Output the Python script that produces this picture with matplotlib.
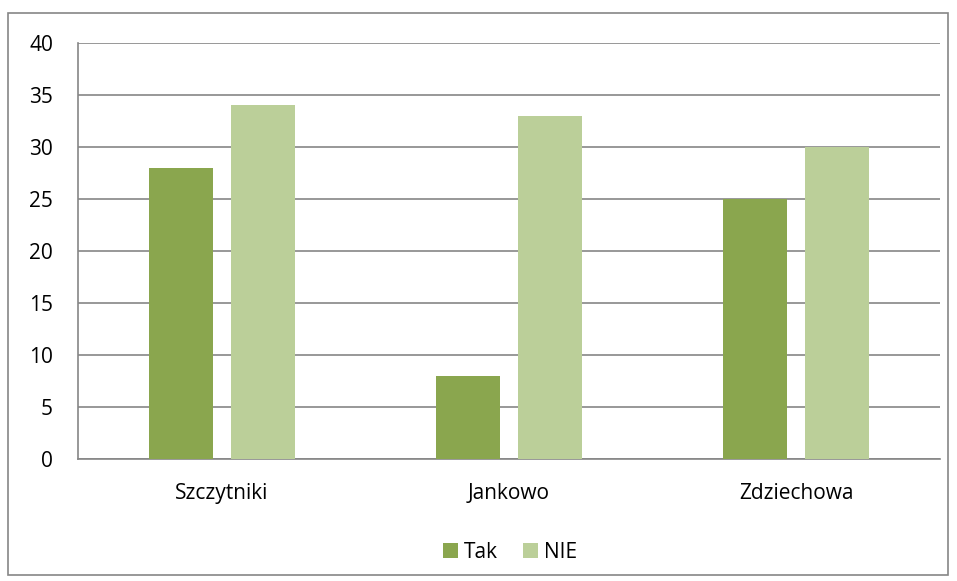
import matplotlib
matplotlib.use("Agg")
import matplotlib.pyplot as plt
import numpy as np
from matplotlib.patches import Rectangle

categories = ["Szczytniki", "Jankowo", "Zdziechowa"]
tak = [28, 8, 25]
nie = [34, 33, 30]
series_names = ["Tak", "NIE"]
yticks = [0, 5, 10, 15, 20, 25, 30, 35, 40]

plt.rcParams['font.family'] = ['Open Sans', 'DejaVu Sans']
FS = 15

fig = plt.figure(figsize=(9.57, 5.81), dpi=100)
fig.patches.append(Rectangle((8/957, 1-575/581), 940/957, 562/581, transform=fig.transFigure,
                             fill=False, edgecolor='#868686', linewidth=1.2))
ax = fig.add_axes([78/957, 1-459/581, 862/957, 416/581])

x = np.arange(len(categories))
w = 0.223
off = 0.143
ax.bar(x - off, tak, width=w, color='#8AA64E', label=series_names[0], zorder=3)
ax.bar(x + off, nie, width=w, color='#BBCF99', label=series_names[1], zorder=3)

ax.set_xlim(-0.5, 2.5)
ax.set_ylim(0, 40)
ax.set_yticks(yticks)
ax.yaxis.grid(True, color='#868686', linewidth=1.2, zorder=0)
ax.set_xticks(x)
ax.set_xticklabels(categories, fontsize=FS)
ax.tick_params(axis='y', labelsize=FS, length=0, pad=18)
ax.tick_params(axis='x', length=0, pad=17)
for s in ['top', 'right']:
    ax.spines[s].set_visible(False)
ax.spines['left'].set_color('#868686')
ax.spines['left'].set_linewidth(1.2)
ax.spines['bottom'].set_color('#868686')
ax.spines['bottom'].set_linewidth(1.2)

fig.legend(loc='center', bbox_to_anchor=(510/957, 1-552/581), ncol=2, frameon=False,
           fontsize=FS, handlelength=0.7, handleheight=0.7, handletextpad=0.3, columnspacing=1.2)

fig.savefig("out.png", dpi=100)
